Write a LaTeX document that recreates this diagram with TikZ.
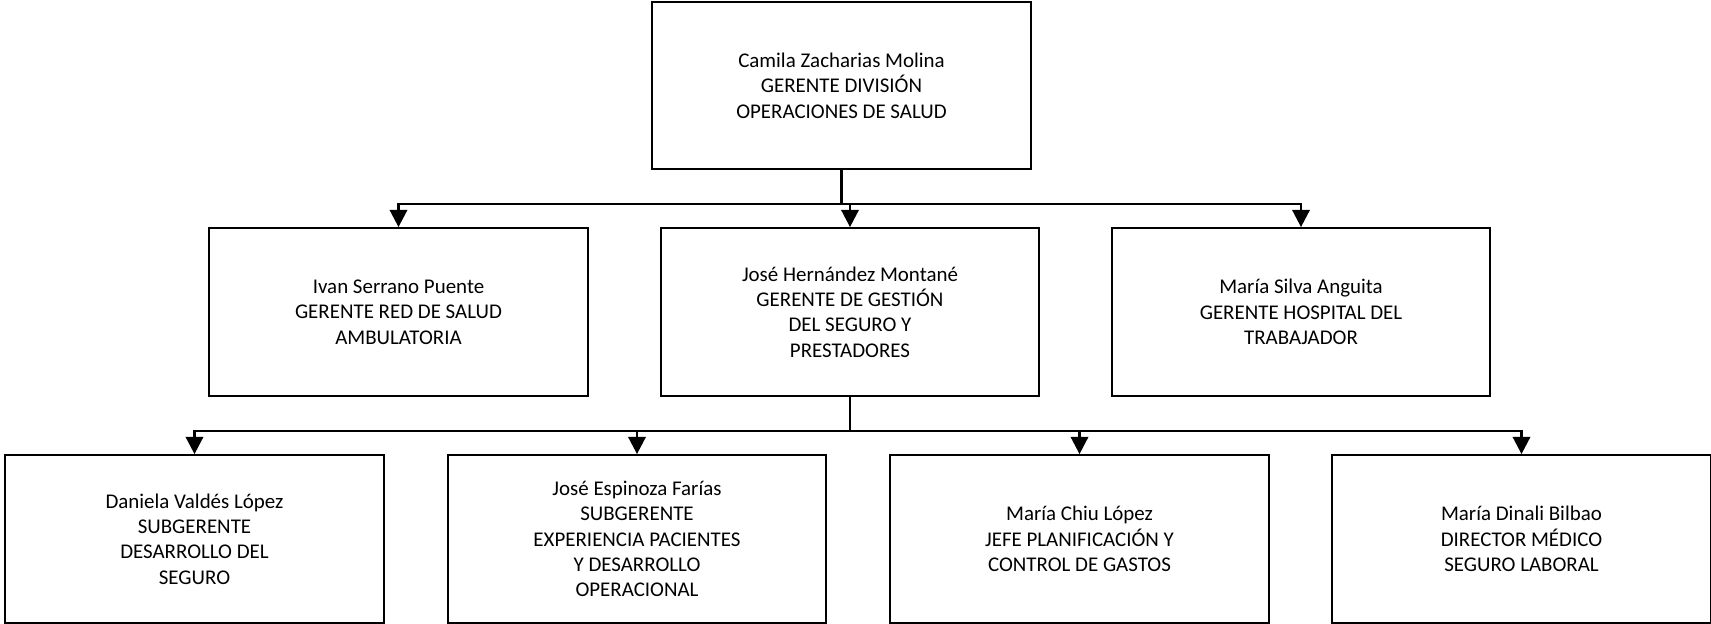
\documentclass[tikz,border=0pt]{standalone}
\usepackage{fontspec}
\setmainfont{Carlito}
\usetikzlibrary{arrows.meta}
\tikzset{
  block/.style={
    rectangle,
    draw,
    draw=black,
    line width=1.3pt,
    minimum width=284pt,
    minimum height=126pt,
    align=center,
    font=\fontsize{15.7}{19}\selectfont
  }
}
\tikzstyle{arrow} = [-{Triangle[length=13pt, width=13pt]}, line width=2pt]
\tikzstyle{bus} = [line width=2pt, line cap=rect]

\begin{document}
\begin{tikzpicture}[x=0.75pt, y=-0.75pt]
    \useasboundingbox (0,0) rectangle (1711,624);
    \node[block, minimum height=125pt] (division) at (841.5, 85.5) {Camila Zacharias Molina\\GERENTE DIVISIÓN\\OPERACIONES DE SALUD};
    \node[block] (red) at (398.5, 312) {Ivan Serrano Puente\\GERENTE RED DE SALUD\\AMBULATORIA};
    \node[block] (gestion) at (850, 312) {José Hernández Montané\\GERENTE DE GESTIÓN\\DEL SEGURO Y\\PRESTADORES};
    \node[block] (hospital) at (1301, 312) {María Silva Anguita\\GERENTE HOSPITAL DEL\\TRABAJADOR};
    \node[block] (desarrollo) at (194.5, 539) {Daniela Valdés López\\SUBGERENTE\\DESARROLLO DEL\\SEGURO};
    \node[block] (experiencia) at (637, 539) {José Espinoza Farías\\SUBGERENTE\\EXPERIENCIA PACIENTES\\Y DESARROLLO\\OPERACIONAL};
    \node[block] (planificacion) at (1079.5, 539) {María Chiu López\\JEFE PLANIFICACIÓN Y\\CONTROL DE GASTOS};
    \node[block] (medico) at (1521.5, 539) {María Dinali Bilbao\\DIRECTOR MÉDICO\\SEGURO LABORAL};
    \coordinate (bus1) at (0, 204);
    \coordinate (bus2) at (0, 431);
    % second level
    \draw[bus] (division.south) -- (division.south |- bus1);
    \draw[bus] (red.north |- bus1) -- (hospital.north |- bus1);
    \foreach \n in {red, gestion, hospital}
        \draw[arrow] (\n.north |- bus1) -- (\n.north);
    % third level
    \draw[bus] (gestion.south) -- (gestion.south |- bus2);
    \draw[bus] (desarrollo.north |- bus2) -- (medico.north |- bus2);
    \foreach \n in {desarrollo, experiencia, planificacion, medico}
        \draw[arrow] (\n.north |- bus2) -- (\n.north);
\end{tikzpicture}
\end{document}
